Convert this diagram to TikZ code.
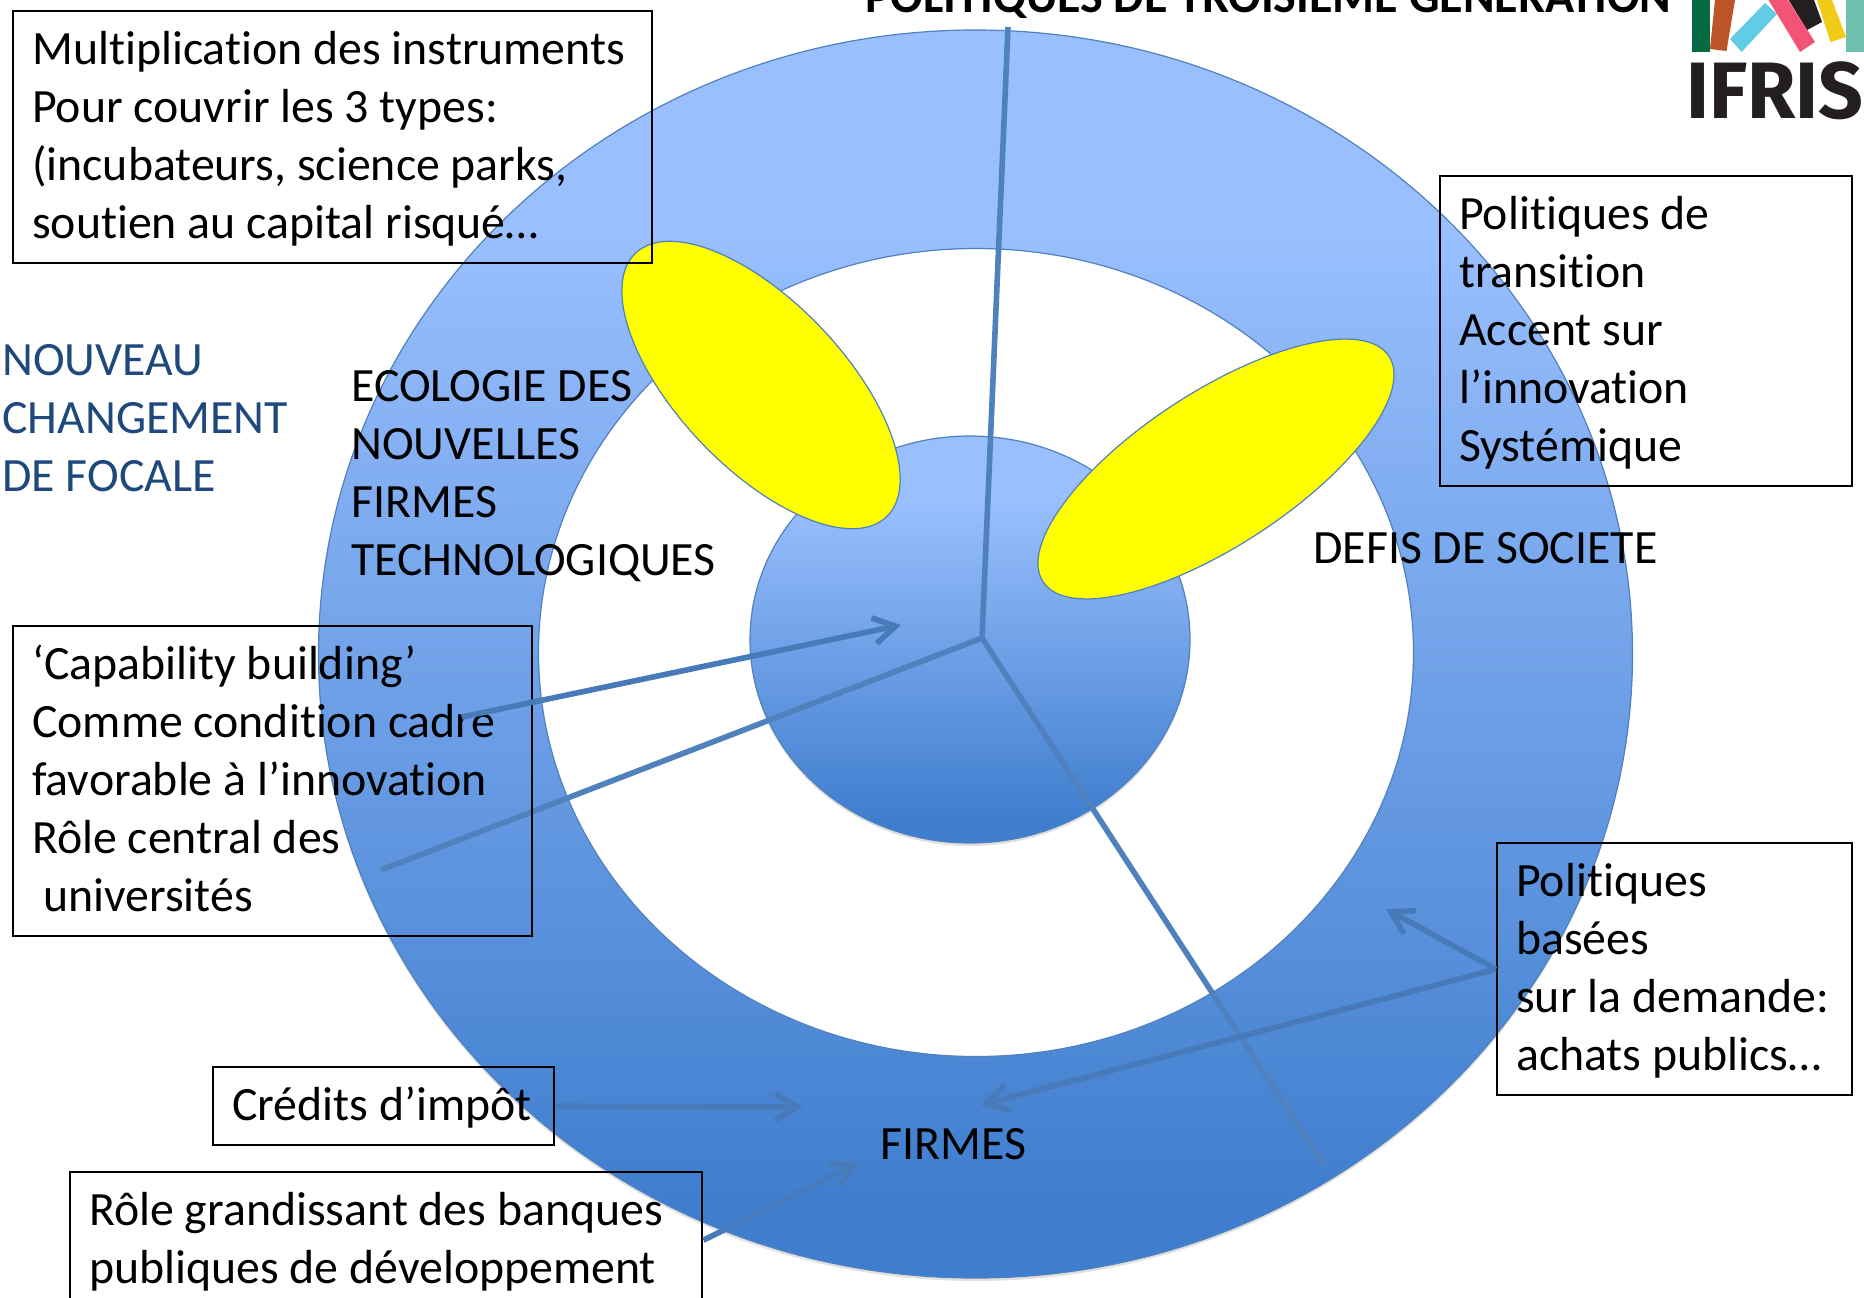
\documentclass[tikz,border=0pt]{standalone}
\usepackage{fontspec}
\setmainfont[Ligatures=NoCommon]{Carlito}
\newfontfamily\logofont{Fira Sans}
\usetikzlibrary{arrows.meta}
\definecolor{haut}{HTML}{99BFFE}
\definecolor{bas}{HTML}{3F7ECE}
\definecolor{trait}{HTML}{4F81BD}
\definecolor{tige}{HTML}{477AB8}
\definecolor{focale}{HTML}{1F497D}
\definecolor{jaune}{HTML}{FFFF00}
\pgfdeclareverticalshading{degrade}{100bp}{color(0bp)=(bas); color(28bp)=(bas); color(67bp)=(haut); color(100bp)=(haut)}
\newcommand{\entree}{\rule[-7.6pt]{0pt}{29pt}}
\tikzset{>={Straight Barb[length=11pt,width=13pt]}}
\tikzset{
	forme/.style={draw=trait,line width=.6pt,shading=degrade},
	ombre/.style={fill=black,opacity=.12},
	pale/.style={draw=trait,line width=.6pt,fill=jaune},
	rayon/.style={draw=trait,line width=2.8pt},
	fleche/.style={draw=tige,line width=2.8pt,->},
	texte/.style={font=\fontsize{23.9}{29}\selectfont,align=left,inner sep=0pt},
	boite/.style={texte,align=flush left,draw=black,line width=1pt,anchor=north west,inner xsep=9.6pt,inner ysep=5.1pt},
}
\begin{document}
\begin{tikzpicture}[x=.5pt,y=-.5pt]
	\useasboundingbox (0,0) rectangle (1864,1297);
	% anneau et disque central
	\fill[ombre] (975.5,657) ellipse [x radius=657,y radius=624];
	\shade[forme] (975.5,654) ellipse [x radius=657,y radius=624];
	\draw[draw=trait,line width=.6pt,fill=white] (976,652.5) ellipse [x radius=437.5,y radius=404];
	\fill[ombre] (970,642.5) ellipse [x radius=220,y radius=203.5];
	\shade[forme] (970,639.5) ellipse [x radius=220,y radius=203.5];
	% rayons
	\coordinate (centre) at (982,638);
	\coordinate (haut1) at (1008,27);
	\coordinate (gauche1) at (381,870);
	\coordinate (bas1) at (1324,1165);
	\draw[rayon] (haut1) -- (centre) -- (gauche1);
	\draw[rayon] (centre) -- (bas1);
	% ellipses jaunes
	\draw[pale,shift={(761,385)},rotate=-46.4] (0,0) ellipse [x radius=182,y radius=83];
	\draw[pale,shift={(1216,469)},rotate=33.1] (0,0) ellipse [x radius=206.5,y radius=77];
	% titre et logo
	\node[texte,font=\fontsize{24}{29}\selectfont\bfseries,anchor=base west] (titre) at (865,12) {POLITIQUES DE TROISIEME GENERATION};
	\fill[fill={rgb,255:red,4;green,106;blue,66}] (1692,0) rectangle (1710,52);
	\fill[fill={rgb,255:red,188;green,84;blue,40}] (1715,0) -- (1735,0) -- (1726.5,51) -- (1710,49) -- cycle;
	\fill[fill={rgb,255:red,98;green,203;blue,230}] (1765,3) -- (1777,14) -- (1741.6,52) -- (1730,39) -- cycle;
	\fill[fill={rgb,255:red,35;green,31;blue,32}] (1788.6,0) -- (1814,0) -- (1822,22) -- (1807,30) -- cycle;
	\fill[fill={rgb,255:red,243;green,84;blue,118}] (1768.5,0) -- (1788,0) -- (1815,42) -- (1800,52) -- cycle;
	\fill[fill={rgb,255:red,242;green,203;blue,23}] (1817,0) -- (1832,0) -- (1846,37) -- (1830.5,42) -- cycle;
	\fill[fill={rgb,255:red,111;green,192;blue,174}] (1846,0) rectangle (1864,52);
	\node[inner sep=0pt,anchor=base west,transform shape,xscale=.98,font=\logofont\bfseries\fontsize{40}{40}\selectfont,text={rgb,255:red,35;green,31;blue,32}] (logo) at (1686,118) {IFRIS};
	% boites
	\node[boite,text width=300.5pt] (instruments) at (12,10) {\entree Multiplication des instruments\\Pour couvrir les 3 types:\\(incubateurs, science parks,\\soutien au capital risqué…\entree};
	\node[boite,text width=187pt] (transition) at (1439,175) {\entree Politiques de\\transition\\Accent sur\\l’innovation\\Systémique\entree};
	\node[boite,text width=240.5pt] (capacite) at (12,625) {\entree ‘Capability building’\\Comme condition cadre\\favorable à l’innovation\\Rôle central des\\\hspace*{.23em}universités\entree};
	\node[boite,text width=158.5pt] (demande) at (1496,842) {\entree Politiques\\basées\\sur la demande:\\achats publics…\entree};
	\node[boite,text width=151.5pt] (credits) at (212,1066) {\entree Crédits d’impôt};
	\node[boite,text width=297pt] (banques) at (69,1171) {\entree Rôle grandissant des banques\\publiques de développement\entree};
	% textes libres
	\node[texte,anchor=north west,text=focale] (focale) at (2,344) {NOUVEAU\\CHANGEMENT\\DE FOCALE};
	\node[texte,anchor=north west] (ecologie) at (351,370) {ECOLOGIE DES\\NOUVELLES\\FIRMES\\TECHNOLOGIQUES};
	\node[texte,anchor=base west] (defis) at (1313,563) {DEFIS DE SOCIETE};
	\node[texte,anchor=base west] (firmes) at (880,1159) {FIRMES};
	% fleches
	\coordinate (departcap) at (462,717);
	\coordinate (ciblecap) at (901,625);
	\coordinate (ciblecredits) at (803,1107);
	\coordinate (ciblebanques) at (859,1163);
	\coordinate (cibleanneau) at (1386,909);
	\coordinate (ciblefirmes) at (981,1105);
	\draw[fleche] (departcap) -- (ciblecap);
	\draw[fleche] (credits.east) -- (ciblecredits);
	\draw[fleche] (banques.east) -- (ciblebanques);
	\draw[fleche] (demande.west) -- (cibleanneau);
	\draw[fleche] (demande.west) -- (ciblefirmes);
\end{tikzpicture}
\end{document}
